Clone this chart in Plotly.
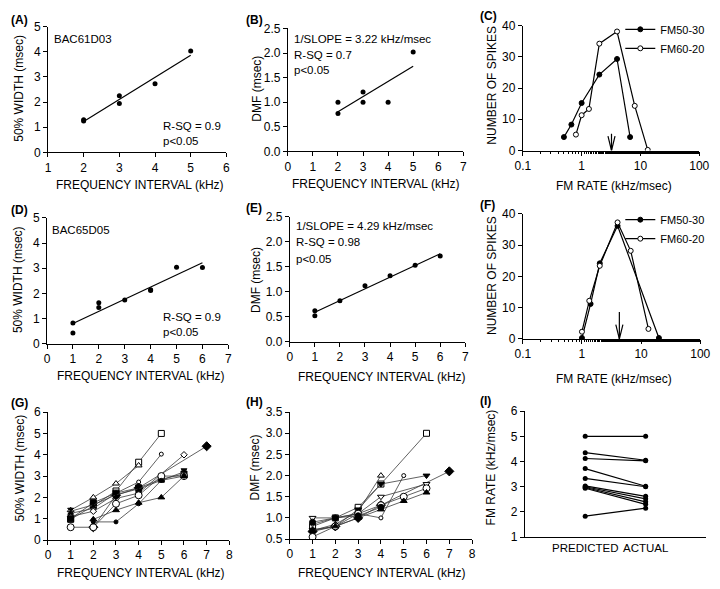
import numpy as np
import plotly.graph_objects as go

W, H = 720, 589
FONT = "Liberation Sans, Arial, sans-serif"

# ---------------- data ----------------
A_x = [2, 2, 3, 3, 4, 5]
A_y = [1.30, 1.25, 2.25, 1.94, 2.73, 4.03]

B_x = [2, 2, 3, 3, 4, 5]
B_y = [1.00, 0.77, 1.21, 1.00, 1.00, 2.02]
B_slope_text = "1/SLOPE = 3.22 kHz/msec"

C_5030_x = [0.5, 0.67, 1, 2, 4, 6.67]
C_5030_y = [4.3, 8.3, 15.2, 24.3, 29.3, 4.3]
C_6020_x = [0.8, 1, 1.33, 2, 4, 8, 13.3]
C_6020_y = [5.1, 11.3, 13.3, 34.2, 38.1, 14.3, 0.2]
C_arrow = 3.22

D_x = [1, 1, 2, 2, 3, 4, 4, 5, 6]
D_y = [0.83, 0.43, 1.63, 1.44, 1.74, 2.15, 2.12, 3.04, 3.03]

E_x = [1, 1, 2, 3, 4, 5, 6]
E_y = [0.62, 0.52, 0.82, 1.12, 1.32, 1.53, 1.72]
E_slope_text = "1/SLOPE = 4.29 kHz/msec"

F_5030_x = [1, 1.4, 2, 4, 20]
F_5030_y = [0.3, 11.2, 24.2, 36.2, 0.3]
F_6020_x = [1, 1.33, 2, 4, 6.67, 13.3]
F_6020_y = [2.3, 12.2, 23.4, 37.3, 28.2, 3.2]
F_arrow = 4.29

G_x = [[1, 2, 3, 4, 5], [1, 2, 3, 4], [1, 2, 3, 4, 5], [1, 2, 3, 4, 6],
       [2, 3, 4, 7], [1, 2, 3, 4, 5, 6], [1, 2, 3, 4, 6], [1, 2, 3, 4, 5, 6],
       [2, 3, 4, 5, 6], [2, 3, 4, 5, 6]]
G_y = [[0.97, 1.6, 2.3, 3.65, 5.0], [1.4, 2.0, 2.65, 3.5], [1.25, 1.48, 2.2, 2.72, 4.03],
       [1.1, 1.35, 1.95, 2.2, 4.0], [0.6, 2.1, 2.45, 4.4], [1.0, 1.75, 2.2, 2.45, 2.85, 3.1],
       [1.35, 1.65, 2.12, 2.4, 3.2], [0.6, 0.6, 1.7, 2.1, 3.0, 3.0],
       [0.97, 1.4, 1.75, 2.0, 3.0], [0.85, 0.85, 1.7, 2.8, 3.0]]
G_sym = ["square", "triangle-up", "circle", "diamond", "diamond", "square",
         "hourglass", "circle", "triangle-up", "circle"]
G_fill = [False, False, False, False, True, True, True, False, True, True]
G_size = [6, 6, 4, 5, 7, 6, 6, 7, 6, 4]

H_x = [[1, 2, 3, 4, 6], [1, 2, 3, 4], [1, 2, 3, 4, 5], [1, 2, 3, 4, 6],
       [1, 2, 3, 4, 7], [1, 2, 3, 4, 6], [1, 2, 3, 4, 5, 6], [1, 2, 3, 4, 5, 6],
       [1, 2, 3, 4]]
H_y = [[0.8, 1.0, 1.25, 1.8, 3.0], [0.7, 0.85, 1.15, 2.0], [0.85, 1.0, 1.1, 1.0, 2.0],
       [0.72, 0.8, 1.2, 1.8, 2.0], [0.68, 0.8, 1.0, 1.3, 2.1], [1.0, 1.0, 1.1, 1.5, 1.8],
       [0.55, 0.8, 1.1, 1.3, 1.5, 1.7], [0.7, 0.8, 1.0, 1.2, 1.4, 1.6], [0.9, 1.0, 1.05, 1.25]]
H_sym = ["square", "triangle-up", "circle", "triangle-down", "diamond",
         "triangle-down", "circle", "triangle-up", "circle"]
H_fill = [False, False, False, True, True, False, False, True, True]
H_size = [6, 6, 4, 6, 7, 6, 7, 6, 6]

I_labels = ["PREDICTED", "ACTUAL"]
I_pred = [5.0, 4.35, 4.12, 3.72, 3.33, 3.03, 3.00, 2.97, 2.94, 1.83]
I_act = [5.0, 4.05, 4.03, 3.02, 3.00, 2.62, 2.52, 2.40, 2.30, 2.15]

# ---------------- layout geometry (pixels) ----------------
panels = {
    1: dict(x=(41, 224), y=(20, 149)),
    2: dict(x=(287, 467), y=(22, 148)),
    3: dict(x=(528, 709), y=(19, 147)),
    4: dict(x=(40, 226), y=(216, 345)),
    5: dict(x=(289, 469), y=(215, 343)),
    6: dict(x=(528, 710), y=(212, 340)),
    7: dict(x=(41, 227), y=(415, 546)),
    8: dict(x=(289, 476), y=(415, 545)),
    9: dict(x=(530, 716), y=(414, 543)),
}


def px(x):
    return x / W


def py(y):
    return 1 - y / H


def ax_name(i, kind):
    return kind if i == 1 else f"{kind}{i}"


fig = go.Figure()

BLACK = "black"


def add(i, **kw):
    kw.setdefault("showlegend", False)
    fig.add_trace(go.Scatter(xaxis=ax_name(i, "x"), yaxis=ax_name(i, "y"), **kw))


def scatter_fit(i, xs, ys):
    add(i, x=xs, y=ys, mode="markers",
        marker=dict(color=BLACK, size=5, symbol="circle"))
    m, b = np.polyfit(xs, ys, 1)
    xl = [min(xs), max(xs)]
    add(i, x=xl, y=[m * v + b for v in xl], mode="lines",
        line=dict(color=BLACK, width=1.2))


scatter_fit(1, A_x, A_y)
scatter_fit(2, B_x, B_y)
scatter_fit(4, D_x, D_y)
scatter_fit(5, E_x, E_y)


def tuning(i, xs5, ys5, xs6, ys6, legend):
    add(i, x=xs5, y=ys5, mode="lines+markers", name="FM50-30", showlegend=True,
        legend=legend, line=dict(color=BLACK, width=1.2),
        marker=dict(color=BLACK, size=5, line=dict(color=BLACK, width=1)))
    add(i, x=xs6, y=ys6, mode="lines+markers", name="FM60-20", showlegend=True,
        legend=legend, line=dict(color=BLACK, width=1.2),
        marker=dict(color="white", size=5, line=dict(color=BLACK, width=1)))


tuning(3, C_5030_x, C_5030_y, C_6020_x, C_6020_y, "legend")
tuning(6, F_5030_x, F_5030_y, F_6020_x, F_6020_y, "legend2")


def arrow(i, xv, top):
    d = 10 ** 0.06
    add(i, x=[xv, xv, None, xv / d, xv, xv * d], y=[top, 0, None, 4.6, 0, 4.6],
        mode="lines", line=dict(color=BLACK, width=1.2), hoverinfo="skip")


arrow(3, C_arrow, 5.4)
arrow(6, F_arrow, 8.6)


def multi(i, xs, ys, syms, fills, sizes):
    for xx, yy, s, f, sz in zip(xs, ys, syms, fills, sizes):
        add(i, x=xx, y=yy, mode="lines+markers",
            line=dict(color="#3a3a3a", width=0.8),
            marker=dict(symbol=s, size=sz, color=BLACK if f else "white",
                        line=dict(color=BLACK, width=1)))


multi(7, G_x, G_y, G_sym, G_fill, G_size)
multi(8, H_x, H_y, H_sym, H_fill, H_size)

for p, a in zip(I_pred, I_act):
    add(9, x=[1, 2], y=[p, a], mode="lines+markers",
        line=dict(color=BLACK, width=1.2), marker=dict(color=BLACK, size=5))

# ---------------- axes ----------------
def axstyle(**kw):
    d = dict(showline=True, linecolor=BLACK, linewidth=1, ticks="outside", ticklen=4,
             tickwidth=1, tickcolor=BLACK, showgrid=False, zeroline=False,
             ticklabeloverflow="allow",
             tickfont=dict(size=12, color=BLACK, family=FONT))
    d.update(kw)
    return d


xcfg = {
    1: dict(range=[1, 6], dtick=1),
    2: dict(range=[0, 7], dtick=1),
    3: dict(type="log", range=[-1, 2], tickvals=[0.1, 1, 10, 100],
            ticktext=["0.1", "1", "10", "100"],
            minor=dict(ticks="outside", ticklen=2, tickcolor=BLACK, showgrid=False)),
    4: dict(range=[0, 7], dtick=1),
    5: dict(range=[0, 7], dtick=1),
    6: dict(type="log", range=[-1, 2], tickvals=[0.1, 1, 10, 100],
            ticktext=["0.1", "1", "10", "100"],
            minor=dict(ticks="outside", ticklen=2, tickcolor=BLACK, showgrid=False)),
    7: dict(range=[0, 8], dtick=1),
    8: dict(range=[0, 8], dtick=1),
    9: dict(range=[0, 3], tickvals=[1, 2], ticktext=I_labels, ticks="", tickangle=0,
            tickfont=dict(size=11.5, color=BLACK, family=FONT)),
}
ycfg = {
    1: dict(range=[0, 5], dtick=1),
    2: dict(range=[0, 2.5], dtick=0.5, tickformat=".1f"),
    3: dict(range=[0, 40], dtick=10),
    4: dict(range=[0, 5], dtick=1),
    5: dict(range=[0, 2.5], dtick=0.5, tickformat=".1f"),
    6: dict(range=[0, 40], dtick=10),
    7: dict(range=[0, 6], dtick=1),
    8: dict(range=[0.5, 3.5], dtick=0.5, tickformat=".1f"),
    9: dict(range=[1, 6], dtick=1),
}

layout = dict(width=W, height=H, margin=dict(l=0, r=0, t=0, b=0),
              paper_bgcolor="white", plot_bgcolor="white",
              font=dict(family=FONT, color=BLACK, size=12))
for i, g in panels.items():
    xn = "xaxis" if i == 1 else f"xaxis{i}"
    yn = "yaxis" if i == 1 else f"yaxis{i}"
    layout[xn] = axstyle(domain=[px(g["x"][0]), px(g["x"][1])],
                         anchor=ax_name(i, "y"), **xcfg[i])
    layout[yn] = axstyle(domain=[py(g["y"][1]), py(g["y"][0])],
                         anchor=ax_name(i, "x"), **ycfg[i])

layout["legend"] = dict(x=px(628), y=py(8), xanchor="left", yanchor="top",
                        font=dict(size=11, family=FONT), bgcolor="rgba(0,0,0,0)",
                        tracegroupgap=0, itemwidth=30)
layout["legend2"] = dict(x=px(628), y=py(203), xanchor="left", yanchor="top",
                         font=dict(size=11, family=FONT), bgcolor="rgba(0,0,0,0)",
                         tracegroupgap=0, itemwidth=30)

fig.update_layout(**layout)

# ---------------- text ----------------
ann = []


def text(x, y, s, size=11.5, anchor="left", bold=False, angle=0):
    ann.append(dict(x=px(x), y=py(y), xref="paper", yref="paper", text=f"<b>{s}</b>" if bold else s,
                    showarrow=False, xanchor=anchor, yanchor="middle", textangle=angle,
                    font=dict(size=size, family=FONT, color=BLACK)))


# panel labels
for lab, (x, y) in {"(A)": (1, 13), "(B)": (242, 13), "(C)": (482, 9),
                    "(D)": (1, 208), "(E)": (242, 206), "(F)": (482, 203),
                    "(G)": (1, 406), "(H)": (242, 405), "(I)": (482, 404)}.items():
    text(x, y, lab, size=12, bold=True)

# x titles
for x, y, s in [(135, 182, "FREQUENCY INTERVAL (kHz)"), (377, 181, "FREQUENCY INTERVAL (kHz)"),
                (622, 183, "FM RATE (kHz/msec)"), (136, 378, "FREQUENCY INTERVAL (kHz)"),
                (384, 379, "FREQUENCY INTERVAL (kHz)"), (622, 381, "FM RATE (kHz/msec)"),
                (136, 580, "FREQUENCY INTERVAL (kHz)"), (384, 580, "FREQUENCY INTERVAL (kHz)")]:
    text(x, y, s, size=12, anchor="center")

# y titles
for x, y, s in [(11, 83, "50% WIDTH (msec)"), (255, 84, "DMF (msec)"),
                (497, 80, "NUMBER OF SPIKES"), (11, 279, "50% WIDTH (msec)"),
                (255, 280, "DMF (msec)"), (497, 275, "NUMBER OF SPIKES"),
                (12, 472, "50% WIDTH (msec)"), (253, 472, "DMF (msec)"),
                (495, 472, "FM RATE (kHz/msec)")]:
    text(x, y, s, size=12, anchor="center", angle=-90)

# in-plot text
text(45, 33, "BAC61D03")
text(157, 122, "R-SQ = 0.9")
text(157, 137, "p<0.05")
text(291, 33, B_slope_text)
text(291, 49, "R-SQ = 0.7")
text(291, 65, "p<0.05")
text(43, 228, "BAC65D05")
text(157, 318, "R-SQ = 0.9")
text(157, 333, "p<0.05")
text(293, 224, E_slope_text)
text(293, 241, "R-SQ = 0.98")
text(293, 258, "p<0.05")

fig.update_layout(annotations=ann)
fig.write_html("out.html", config={"displayModeBar": False},
               post_script="document.body.style.margin='0';document.body.style.overflow='hidden';")
